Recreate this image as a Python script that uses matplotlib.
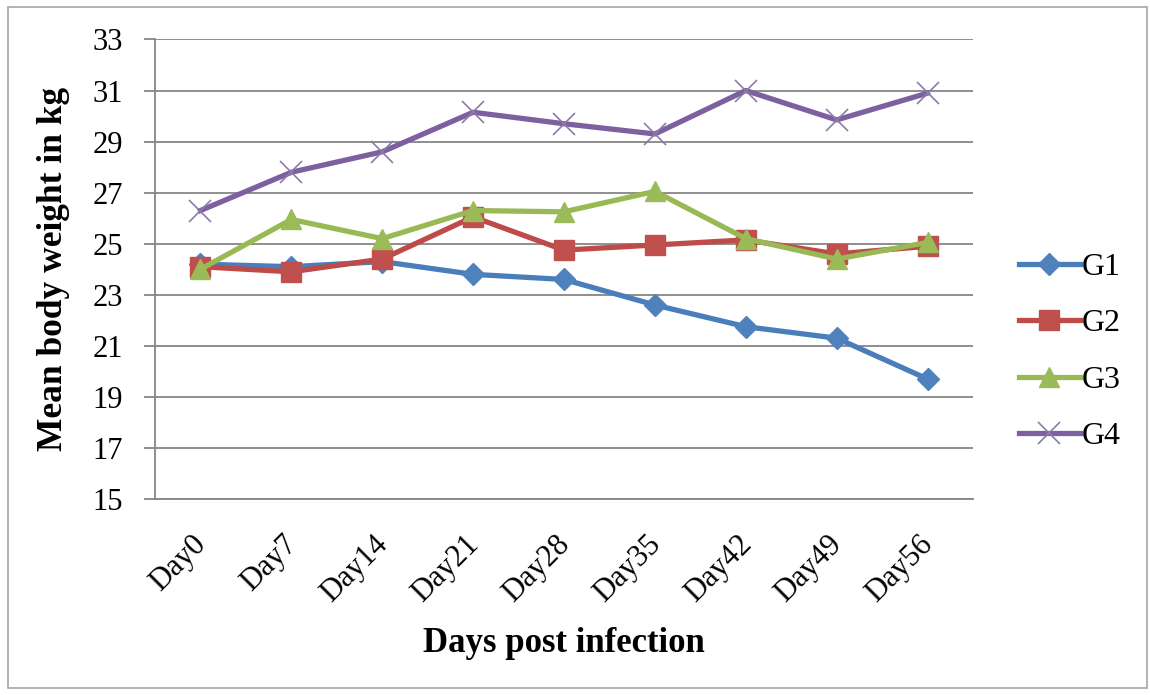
import matplotlib
matplotlib.use('Agg')
import matplotlib.pyplot as plt
import matplotlib.transforms as mtransforms
from matplotlib.patches import Rectangle

# data
days = ['Day0', 'Day7', 'Day14', 'Day21', 'Day28', 'Day35', 'Day42', 'Day49', 'Day56']
g1 = [24.2, 24.1, 24.3, 23.8, 23.6, 22.6, 21.75, 21.3, 19.7]
g2 = [24.1, 23.9, 24.4, 26.05, 24.75, 24.95, 25.15, 24.6, 24.9]
g3 = [24.0, 25.95, 25.2, 26.3, 26.25, 27.05, 25.2, 24.4, 25.05]
g4 = [26.3, 27.8, 28.6, 30.15, 29.7, 29.3, 31.0, 29.85, 30.9]
yticks = list(range(15, 34, 2))

plt.rcParams['font.family'] = ['Liberation Serif', 'DejaVu Serif']

fig = plt.figure(figsize=(11.5, 6.95), dpi=100)
ax = fig.add_axes([155 / 1150, 1 - 499 / 695, 818 / 1150, (499 - 39.5) / 695])

x = list(range(len(days)))
gray = '#868686'

ax.plot(x, g1, color='#4A7EBB', lw=3.8, marker='D', ms=11,
        mfc='#4F81BD', mec='#4F81BD', label='G1', zorder=3)
ax.plot(x, g2, color='#BE4B48', lw=3.8, marker='s', ms=15,
        mfc='#C0504D', mec='#C0504D', label='G2', zorder=3)
ax.plot(x, g3, color='#98B954', lw=3.8, marker='^', ms=15,
        mfc='#9BBB59', mec='#9BBB59', label='G3', zorder=3)
ax.plot(x, g4, color='#7D60A0', lw=3.8, marker='x', ms=16, mew=1.2,
        mec='#8C7BA8', label='G4', zorder=3)

ax.set_xlim(-0.5, 8.5)
ax.set_ylim(15, 33)
ax.set_yticks(yticks)
ax.set_xticks(x)
ax.set_xticklabels(days, rotation=45, ha='right', rotation_mode='anchor')
ax.yaxis.grid(True, color=gray, lw=1.3)
ax.set_axisbelow(True)

for s in ['top', 'right']:
    ax.spines[s].set_visible(False)
for s in ['left', 'bottom']:
    ax.spines[s].set_color(gray)
    ax.spines[s].set_linewidth(1.3)

ax.tick_params(axis='y', length=8, width=1.3, color=gray, labelsize=22, pad=15)
ax.tick_params(axis='x', length=0, labelsize=22, pad=22)

# nudge rotated day labels left so their ends sit under the ticks
shift = mtransforms.ScaledTranslation(-9 / 100, 0, fig.dpi_scale_trans)
for lab in ax.get_xticklabels():
    lab.set_transform(lab.get_transform() + shift)

ax.set_ylabel('Mean body weight in kg', fontsize=25.5, fontweight='bold', labelpad=16)
ax.set_xlabel('Days post infection', fontsize=25, fontweight='bold', labelpad=14)

ax.legend(loc='center left', bbox_to_anchor=(1003 / 1150, 1 - 352 / 695),
          bbox_transform=fig.transFigure, frameon=False, fontsize=23,
          handlelength=1.9, handletextpad=0.05, labelspacing=0.85, borderpad=0)

fig.patches.append(Rectangle((8 / 1150, 7 / 695), 1139 / 1150, 681 / 695,
                             transform=fig.transFigure, fill=False,
                             edgecolor='#A6A6A6', lw=1.2))

fig.savefig('out.png', dpi=100)
